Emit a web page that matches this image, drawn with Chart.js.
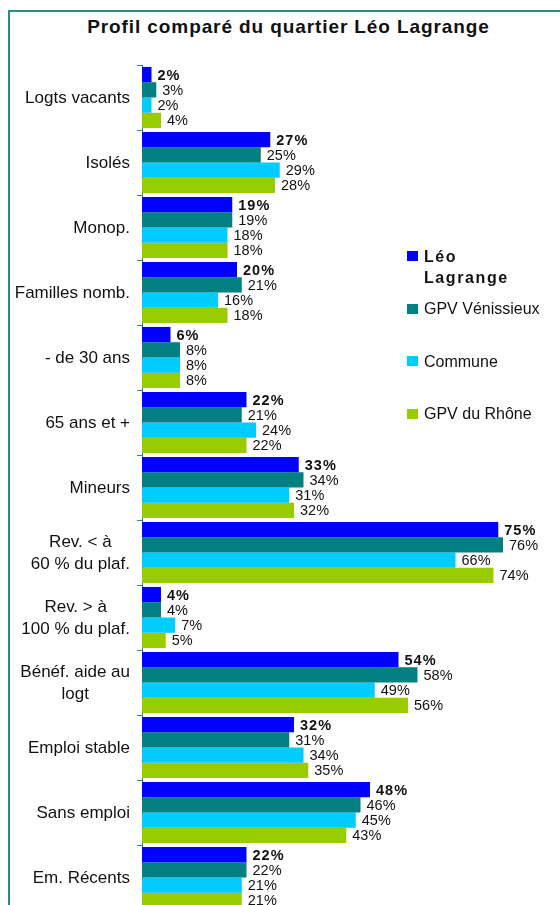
<!DOCTYPE html>
<html>
<head>
<meta charset="utf-8">
<script src="https://cdn.jsdelivr.net/npm/chart.js@4.4.1/dist/chart.umd.min.js"></script>
<style>
html,body{margin:0;padding:0;background:#fff;overflow:hidden;width:560px;height:905px;}
#frame{position:absolute;left:8px;top:10px;width:600px;height:1000px;border:2px solid #2b8c86;}
#title{position:absolute;left:0;width:577px;top:16px;text-align:center;font:bold 19px "Liberation Sans",Arial,sans-serif;letter-spacing:0.9px;color:#111;}
#wrap{position:absolute;left:0;top:0;}
#legend{position:absolute;left:407px;top:0;font:16px "Liberation Sans",Arial,sans-serif;color:#111;}
.sw{position:absolute;left:0;width:11px;height:10px;}
.lbl{position:absolute;left:17px;line-height:21px;white-space:nowrap;}
.lbl.b{font-weight:bold;font-size:16px;letter-spacing:1.6px;white-space:normal;width:95px;}
</style>
</head>
<body>
<div id="frame"></div>
<div id="title">Profil comparé du quartier Léo Lagrange</div>
<div id="wrap"><canvas id="chart" width="560" height="925"></canvas></div>
<div id="legend"></div>
<script>
// values (in %)
const categories = [
  ['Logts vacants'], ['Isolés'], ['Monop.'], ['Familles nomb.'], ['- de 30 ans'],
  ['65 ans et +'], ['Mineurs'], ['Rev. < à', '60 % du plaf.'], ['Rev. > à', '100 % du plaf.'],
  ['Bénéf. aide au', 'logt'], ['Emploi stable'], ['Sans emploi'], ['Em. Récents']
];
const seriesNames = ['Léo Lagrange', 'GPV Vénissieux', 'Commune', 'GPV du Rhône'];
const seriesColors = ['#0000ff', '#008080', '#00ccff', '#99cc00'];
const leoLagrange   = [2, 27, 19, 20, 6, 22, 33, 75, 4, 54, 32, 48, 22];
const gpvVenissieux = [3, 25, 19, 21, 8, 21, 34, 76, 4, 58, 31, 46, 22];
const commune       = [2, 29, 18, 16, 8, 24, 31, 66, 7, 49, 34, 45, 21];
const gpvRhone      = [4, 28, 18, 18, 8, 22, 32, 74, 5, 56, 35, 43, 21];
const seriesData = [leoLagrange, gpvVenissieux, commune, gpvRhone];

const teal = '#2b8c86';
const FONT = '"Liberation Sans", Arial, sans-serif';

// category names: lines centred on each other, block right-aligned next to the axis
const catLabels = {
  id: 'catLabels',
  afterDraw(chart){
    const ctx = chart.ctx, y = chart.scales.y;
    ctx.save();
    ctx.font = '17px ' + FONT;
    ctx.fillStyle = '#111'; ctx.textAlign = 'center'; ctx.textBaseline = 'middle';
    const lineH = 21.5;
    chart.data.labels.forEach((lines, i) => {
      const w = Math.max(...lines.map(l => ctx.measureText(l).width));
      const cx = 130 - w / 2;
      const cy = y.getPixelForValue(i) + 1;
      lines.forEach((l, k) => ctx.fillText(l, cx, cy + (k - (lines.length - 1) / 2) * lineH));
    });
    ctx.restore();
  }
};

// value labels at the end of each bar, first series in bold
const valueLabels = {
  id: 'valueLabels',
  afterDatasetsDraw(chart){
    const ctx = chart.ctx;
    ctx.save();
    ctx.textBaseline = 'middle'; ctx.textAlign = 'left'; ctx.fillStyle = '#111';
    chart.data.datasets.forEach((ds, i) => {
      ctx.font = (i === 0 ? 'bold ' : '') + '14.5px ' + FONT;
      ctx.letterSpacing = i === 0 ? '1px' : '0px';
      chart.getDatasetMeta(i).data.forEach((bar, j) => {
        ctx.fillText(ds.data[j] + '%', bar.x + 6, bar.y + 1);
      });
    });
    ctx.restore();
  }
};

new Chart(document.getElementById('chart'), {
  type: 'bar',
  data: {
    labels: categories,
    datasets: seriesNames.map((n, i) => ({
      label: n, data: seriesData[i], backgroundColor: seriesColors[i],
      borderWidth: 0, categoryPercentage: 0.94, barPercentage: 1
    }))
  },
  options: {
    indexAxis: 'y', responsive: false, animation: false,
    layout: { padding: { top: 65, bottom: 15, right: 38, left: 0 } },
    plugins: { legend: { display: false }, title: { display: false }, tooltip: { enabled: false } },
    scales: {
      x: { display: false, min: 0, max: 80 },
      y: {
        ticks: { display: false },
        grid: { drawOnChartArea: false, drawTicks: true, tickLength: 5, color: teal, offset: true },
        border: { display: true, color: '#2b7f7a', width: 1 },
        afterFit: s => { s.width = 142; }
      }
    }
  },
  plugins: [catLabels, valueLabels]
});

// legend on the right
const leg = document.getElementById('legend');
seriesNames.forEach((n, i) => {
  const c = 256 + i * 52.5;
  const sw = document.createElement('div');
  sw.className = 'sw'; sw.style.background = seriesColors[i]; sw.style.top = (c - 5) + 'px';
  const t = document.createElement('div');
  t.className = 'lbl' + (i === 0 ? ' b' : ''); t.textContent = n; t.style.top = (c - 10.5) + 'px';
  leg.appendChild(sw); leg.appendChild(t);
});
</script>
</body>
</html>
